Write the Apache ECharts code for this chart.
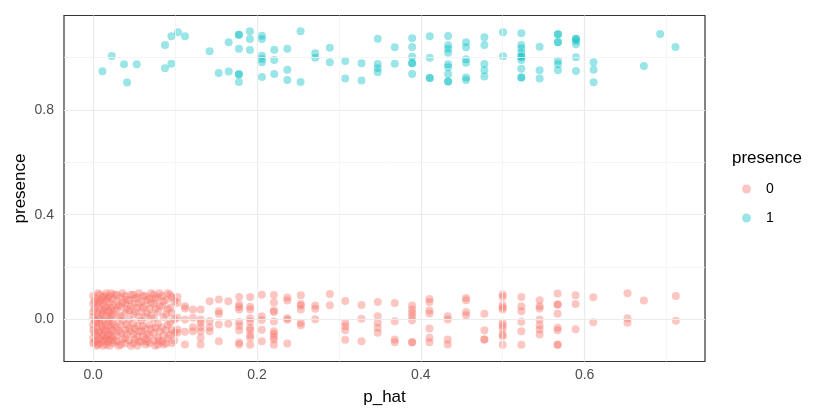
<!DOCTYPE html>
<html>
<head>
<meta charset="utf-8">
<script src="https://cdn.jsdelivr.net/npm/echarts@6/dist/echarts.min.js"></script>
<style>
  html, body { margin: 0; padding: 0; background: #fff; }
  #chart { width: 819px; height: 413px; }
</style>
</head>
<body>
<div id="chart"></div>
<script>
var chart = echarts.init(document.getElementById('chart'));

// presence = 0 : p_hat columns and jittered y values
var absentX = [0.000, 0.002, 0.004, 0.006, 0.008, 0.010, 0.012, 0.014, 0.016, 0.018, 0.020, 0.022,
  0.024, 0.026, 0.029, 0.031, 0.034, 0.036, 0.039, 0.041, 0.044, 0.046, 0.049, 0.051, 0.054, 0.056,
  0.059, 0.061, 0.064, 0.066, 0.069, 0.071, 0.074, 0.076, 0.079, 0.081, 0.084, 0.086, 0.089, 0.091,
  0.094, 0.096, 0.099,
  0.1028, 0.1121, 0.1218, 0.1312, 0.1422, 0.1535, 0.165, 0.1782, 0.1916, 0.2058, 0.2206, 0.237,
  0.2535, 0.2711, 0.2889, 0.3077, 0.3276, 0.3474, 0.3682, 0.3894, 0.4105, 0.4328, 0.4552, 0.4776,
  0.4999, 0.5227, 0.545, 0.567, 0.5889, 0.6105, 0.6523, 0.6723, 0.7113];
var absentY = [
  [0.09, 0.06, 0.03, 0.01, -0.02, -0.04, -0.07, -0.09],
  [0.07, 0.04, -0.005, -0.05, -0.085],
  [0.08, 0.05, 0.02, -0.01, -0.03, -0.06, -0.08, -0.1],
  [0.1, 0.065, 0.01, -0.045, -0.095],
  [0.095, 0.07, 0.04, 0.0, -0.015, -0.05, -0.075, -0.09],
  [0.075, 0.025, -0.025, -0.065],
  [0.085, 0.06, 0.035, 0.02, -0.005, -0.035, -0.06, -0.085, -0.1],
  [0.09, 0.05, -0.04, -0.075],
  [0.1, 0.075, 0.045, 0.015, -0.02, -0.045, -0.07, -0.095],
  [0.08, 0.035, -0.01, -0.06, -0.085],
  [0.09, 0.065, 0.03, 0.005, -0.025, -0.055, -0.08, -0.1],
  [0.1, 0.045, 0.015, -0.04, -0.07],
  [0.08, 0.055, 0.02, -0.01, -0.04, -0.065, -0.09],
  [0.095, 0.035, -0.02, -0.08],
  [0.095, 0.07, 0.04, -0.03, -0.06, -0.085],
  [0.055, 0.01, -0.045, -0.1],
  [0.085, 0.05, 0.015, -0.02, -0.05, -0.095],
  [0.1, 0.065, -0.005, -0.075],
  [0.09, 0.06, 0.025, -0.04, -0.07, -0.09],
  [0.075, 0.04, -0.02, -0.055],
  [0.075, 0.035, 0.0, -0.03, -0.08],
  [0.095, 0.05, -0.045, -0.1],
  [0.095, 0.06, 0.02, -0.015, -0.055, -0.09],
  [0.08, 0.03, -0.035, -0.075],
  [0.085, 0.045, -0.025, -0.065, -0.1],
  [0.1, 0.06, 0.01, -0.045, -0.085],
  [0.07, 0.03, -0.005, -0.045, -0.085],
  [0.09, 0.045, -0.025, -0.065],
  [0.09, 0.055, 0.01, -0.035, -0.075, -0.095],
  [0.075, 0.025, -0.055, -0.085],
  [0.08, 0.04, -0.02, -0.06, -0.09],
  [0.1, 0.065, 0.015, -0.035],
  [0.095, 0.06, 0.005, -0.05, -0.08],
  [0.08, 0.04, -0.03, -0.1],
  [0.085, 0.03, -0.015, -0.07, -0.095],
  [0.1, 0.055, -0.045, -0.08],
  [0.09, 0.05, -0.03, -0.085],
  [0.07, 0.01, -0.06, -0.095],
  [0.075, 0.02, -0.04, -0.09],
  [0.1, 0.04, -0.02, -0.07],
  [0.095, 0.045, -0.01, -0.06],
  [0.085, 0.025, -0.04, -0.09],
  [0.07, 0.0, -0.05, -0.08],
  [0.0865, 0.0636, 0.0065, -0.0381, -0.0507],
  [0.0507, 0.0419, 0.0, -0.0469, -0.0952],
  [0.0381, 0.0065, -0.0293, -0.0446],
  [0.0381, 0.0, -0.0126, -0.0293, -0.0446, -0.0697, -0.0952],
  [0.0697, -0.0065, -0.0293, -0.0446],
  [0.0762, 0.0316, 0.0217, -0.019, -0.0827],
  [0.0697, -0.0164],
  [0.0857, 0.0571, 0.0476, 0.0381, -0.0095, -0.024, -0.0408, -0.0876, -0.0952],
  [0.0857, 0.0488, 0.0381, 0.0046, -0.0084, -0.0316, -0.0408, -0.059, -0.0697, -0.0964],
  [0.0945, 0.0126, -0.0019, -0.0389, -0.0827],
  [0.0941, 0.0648, 0.0343, 0.0293, -0.0076, -0.0446, -0.0545, -0.0659, -0.0762, -0.0964],
  [0.0838, 0.0724, 0.005, -0.0011, -0.0914],
  [0.0926, 0.0598, 0.0533, 0.0381, -0.0126, -0.0217],
  [0.0533, 0.0408, 0.0011],
  [0.0979, 0.0545],
  [0.0712, -0.0126, -0.0255, -0.0408, -0.0773],
  [0.056, 0.0027, -0.0827],
  [0.0674, 0.0126, -0.0126, -0.0316, -0.0507],
  [0.0636, -0.0065, -0.0762, -0.0865],
  [0.0533, 0.0381, 0.0255, 0.0126, -0.0027, -0.0865, -0.0865],
  [0.0789, 0.0674, 0.0343, 0.0229, -0.0343, -0.0697, -0.0865],
  [0.0126, 0.0, -0.0762, -0.0952],
  [0.0827, 0.0735, 0.0293, 0.0164],
  [0.0217, -0.0408, -0.0762, -0.0762],
  [0.0952, 0.0865, 0.0545, 0.0446, 0.0381, -0.0126, -0.0229, -0.0354, -0.0571, -0.0636, -0.0964],
  [0.0865, 0.0507, 0.0316, -0.0088, -0.0446, -0.0964],
  [0.0735, 0.0507, 0.0419, 0.0, -0.0217, -0.0381, -0.0571],
  [0.099, 0.0571, 0.0571, 0.0217, -0.0316, -0.0408, -0.0964, -0.0964],
  [0.0926, 0.0598, -0.037],
  [0.085, -0.0103],
  [0.1002, 0.005, -0.0126],
  [0.0724],
  [0.0903, -0.005]
];

// presence = 1
var presentX = [0.0113, 0.0227, 0.0377, 0.0413, 0.0532, 0.0877, 0.0955, 0.1035, 0.1121, 0.1422,
  0.1532, 0.1654, 0.1779, 0.1913, 0.206, 0.2211, 0.237, 0.2532, 0.2711, 0.2889, 0.3077, 0.3276,
  0.3474, 0.3682, 0.3894, 0.4109, 0.4333, 0.4552, 0.4776, 0.5004, 0.5227, 0.545, 0.5674, 0.5894,
  0.6109, 0.6723, 0.6922, 0.7109];
var presentY = [
  [0.9474], [1.0057], [0.9741], [0.904], [0.9741],
  [1.0476, 0.9589], [1.0808, 0.9764], [1.096], [1.0808], [1.0236], [0.941],
  [1.0579, 0.9459],
  [1.0869, 1.0869, 1.0335, 0.936, 0.936, 0.9067],
  [1.0998, 1.0705, 1.0286],
  [1.083, 1.0705, 1.0069, 0.9943, 0.9817, 0.9257],
  [1.0297, 0.9905, 0.9371],
  [1.0335, 0.9535, 0.9143],
  [1.0998, 0.9067],
  [1.016, 0.9992],
  [1.0373, 0.9817],
  [0.9867, 0.9192],
  [0.9779, 0.9116],
  [1.0716, 0.9752, 0.9589, 0.9436],
  [1.0389, 0.9764],
  [1.0731, 1.04, 1.003, 0.9779, 0.9779, 0.9371],
  [1.0808, 0.9992, 0.9219, 0.9219],
  [1.0819, 1.0465, 1.0335, 1.0183, 0.9741, 0.9627, 0.9371, 0.9078, 0.9078],
  [1.0579, 1.0389, 0.9931, 0.9802, 0.923, 0.9143],
  [1.077, 1.0476, 0.9752, 0.9512, 0.9269],
  [1.096, 1.0046],
  [1.0922, 1.0476, 1.035, 1.0183, 1.003, 1.003, 0.9905, 0.9573, 0.923, 0.923],
  [1.0411, 0.9512, 0.9192],
  [1.0884, 1.0884, 1.0579, 1.0579, 0.9878, 0.9741, 0.9512],
  [1.0716, 1.0716, 1.0629, 1.0503, 1.0008, 0.9486],
  [0.9817, 0.9535, 0.9055],
  [0.9676], [1.0895], [1.04]
];

var xTicks = [0, 0.2, 0.4, 0.6];
var xMinor = [0.1, 0.3, 0.5, 0.7];
var yTicks = [0, 0.4, 0.8];
var yMinor = [0.2, 0.6, 1.0];

function toPoints(xs, ys) {
  var out = [];
  xs.forEach(function (x, i) {
    ys[i].forEach(function (y) { out.push([x, y]); });
  });
  return out;
}

var major = { color: '#ebebeb', width: 1.2, type: 'solid' };
var minor = { color: '#f3f3f3', width: 0.8, type: 'solid' };
var gridLines = [];
xTicks.forEach(function (v) { gridLines.push({ xAxis: v, lineStyle: major }); });
xMinor.forEach(function (v) { gridLines.push({ xAxis: v, lineStyle: minor }); });
yTicks.forEach(function (v) { gridLines.push({ yAxis: v, lineStyle: major }); });
yMinor.forEach(function (v) { gridLines.push({ yAxis: v, lineStyle: minor }); });

var axisFont = { color: '#4d4d4d', fontSize: 14, fontFamily: 'Liberation Sans' };

var option = {
  animation: false,
  title: {
    text: 'presence',
    left: 727,
    top: 145,
    textStyle: { color: '#000', fontSize: 17, fontWeight: 'normal', fontFamily: 'Liberation Sans' }
  },
  legend: {
    data: ['0', '1'],
    orient: 'vertical',
    left: 737,
    top: 177,
    icon: 'circle',
    itemWidth: 9,
    itemHeight: 9,
    itemGap: 15,
    textStyle: { color: '#000', fontSize: 14, fontFamily: 'Liberation Sans', padding: [0, 0, 0, 10] }
  },
  grid: {
    left: 64,
    top: 15.5,
    width: 641,
    height: 346,
    show: true,
    borderColor: '#333',
    borderWidth: 1.2,
    containLabel: false
  },
  xAxis: {
    type: 'value',
    min: -0.0356,
    max: 0.7469,
    name: 'p_hat',
    nameLocation: 'middle',
    nameGap: 27,
    nameTextStyle: { color: '#000', fontSize: 17, fontFamily: 'Liberation Sans' },
    axisLine: { show: false },
    splitLine: { show: false },
    axisTick: { show: true, length: 4, lineStyle: { color: '#333' }, customValues: xTicks },
    axisLabel: Object.assign({ margin: 7, customValues: xTicks, formatter: function (v) { return v.toFixed(1); } }, axisFont)
  },
  yAxis: {
    type: 'value',
    min: -0.16,
    max: 1.16,
    name: 'presence',
    nameLocation: 'middle',
    nameGap: 35,
    nameMoveOverlap: false,
    nameTextStyle: { color: '#000', fontSize: 17, fontFamily: 'Liberation Sans' },
    axisLine: { show: false },
    splitLine: { show: false },
    axisTick: { show: true, length: 4, lineStyle: { color: '#333' }, customValues: yTicks },
    axisLabel: Object.assign({ margin: 10, customValues: yTicks, formatter: function (v) { return v.toFixed(1); } }, axisFont)
  },
  series: [{
    name: 'grid',
    type: 'scatter',
    data: [],
    silent: true,
    z: 0,
    markLine: {
      silent: true,
      symbol: 'none',
      label: { show: false },
      data: gridLines
    }
  }, {
    name: '0',
    type: 'scatter',
    data: toPoints(absentX, absentY),
    symbolSize: 8,
    itemStyle: { color: 'rgba(248,118,109,0.52)' }
  }, {
    name: '1',
    type: 'scatter',
    data: toPoints(presentX, presentY),
    symbolSize: 8,
    itemStyle: { color: 'rgba(0,191,196,0.5)' }
  }]
};
chart.setOption(option);
</script>
</body>
</html>
